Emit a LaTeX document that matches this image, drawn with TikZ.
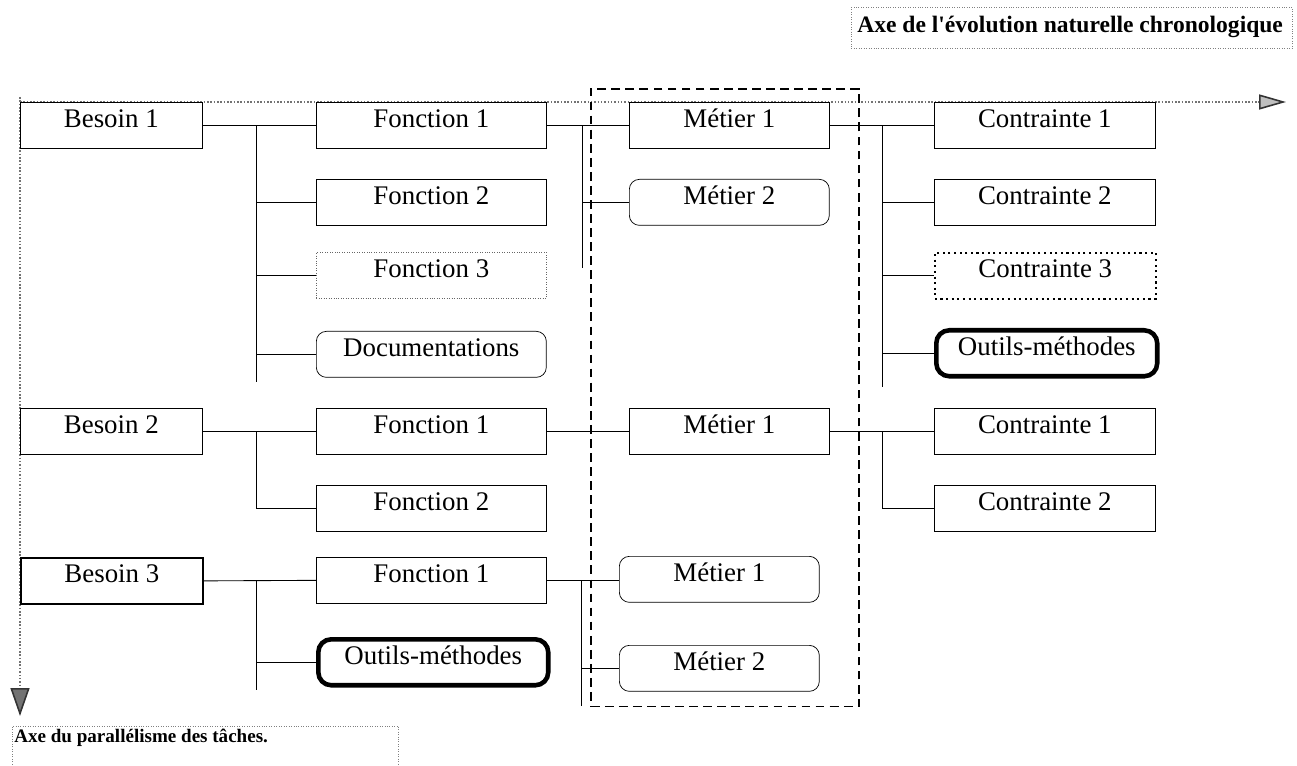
\documentclass[tikz,border=0pt]{standalone}
\usepackage{fontspec}
\setmainfont{Liberation Serif}
\usetikzlibrary{arrows.meta,positioning}

\begin{document}
\begin{tikzpicture}[
  x=0.02cm, y=-0.02cm,
  box/.style={draw,anchor=north west,inner sep=0pt,minimum height=0.92cm,text height=10.5pt,text depth=8.3pt,font=\fontsize{15.3}{17}\selectfont},
  besoin/.style={box,minimum width=3.64cm},
  fonction/.style={box,minimum width=4.6cm},
  metier/.style={box,minimum width=4cm},
  contrainte/.style={box,minimum width=4.42cm},
  rnd/.style={rounded corners=0.2cm},
  outil/.style={rounded corners=0.26cm,line width=2.6pt},
  fine/.style={densely dotted,draw=black!60},
  dotbox/.style={dash pattern=on 1.2pt off 2pt,line width=0.9pt},
  link/.style={line width=0.5pt},
  axis/.style={draw=black!55,densely dotted,line width=0.9pt},
  group/.style={draw,dash pattern=on 5pt off 3pt,line width=0.9pt,anchor=north west,inner sep=0pt},
  frame/.style={anchor=north west,inner sep=0pt},
  axelabel/.style={anchor=base west,inner sep=0pt}
]
\path[use as bounding box] (0,0) rectangle (1297,766);

\coordinate (o) at (20,102);
\coordinate (xe) at (1286,102);
\coordinate (ye) at (20,716);
\draw[axis,-{Triangle[length=0.54cm,width=0.3cm,color=black!80,fill=black!25]}] (o) -- (xe);
\draw[axis,-{Triangle[length=0.56cm,width=0.38cm,color=black!80,fill=black!55]}] (20,97) -- (ye);

\node[frame,draw=black!50,densely dotted,minimum width=8.82cm,minimum height=0.82cm] (lxf) at (851,7) {};
\node[axelabel,font=\bfseries\fontsize{13.4}{15}\selectfont] (lx) at (857,33) {Axe de l\textquotesingle évolution naturelle chronologique};
\node[frame,minimum width=7.72cm,minimum height=0.8cm] (lyf) at (12,726) {};
\draw[black!50,densely dotted] (lyf.south west) -- (lyf.north west) -- (lyf.north east) -- (lyf.south east);
\node[axelabel,font=\bfseries\fontsize{10.85}{13}\selectfont] (ly) at (14,742) {Axe du parallélisme des tâches.};

\node[group,minimum width=5.36cm,minimum height=12.36cm] (grp) at (590,88) {};

\node[besoin] (b1) at (20,102) {Besoin 1};
\node[fonction] (f11) at (316,102) {Fonction 1};
\node[fonction] (f12) at (316,179) {Fonction 2};
\node[fonction,fine] (f13) at (316,252) {Fonction 3};
\node[fonction,rnd] (doc) at (316,331) {Documentations};
\node[metier] (m11) at (629,102) {Métier 1};
\node[metier,rnd] (m12) at (629,179) {Métier 2};
\node[contrainte] (c11) at (934,102) {Contrainte 1};
\node[contrainte] (c12) at (934,179) {Contrainte 2};
\node[contrainte,dotbox] (c13) at (934,252) {Contrainte 3};
\node[contrainte,outil] (om1) at (934,328) {Outils-méthodes};

\node[besoin] (b2) at (20,408) {Besoin 2};
\node[fonction] (f21) at (316,408) {Fonction 1};
\node[fonction] (f22) at (316,485) {Fonction 2};
\node[metier] (m21) at (629,408) {Métier 1};
\node[contrainte] (c21) at (934,408) {Contrainte 1};
\node[contrainte] (c22) at (934,485) {Contrainte 2};

\node[besoin,line width=1pt] (b3) at (20,557) {Besoin 3};
\node[fonction] (f31) at (316,557) {Fonction 1};
\node[fonction,outil] (om3) at (316,637) {Outils-méthodes};
\node[metier,rnd] (m31) at (619,556) {Métier 1};
\node[metier,rnd] (m32) at (619,645) {Métier 2};

\coordinate (t1) at (256,382);
\coordinate (t2) at (582,268);
\coordinate (t3) at (882,387);
\coordinate (t5) at (256,690);
\coordinate (t6) at (581,706);

\draw[link] (b1.east) -- (f11.west);
\draw[link] (f11.west -| t1) -- (t1);
\foreach \n in {f12,f13,doc}
  \draw[link] (\n.west -| t1) -- (\n.west);
\draw[link] (f11.east) -- (m11.west);
\draw[link] (f11.east -| t2) -- (t2);
\draw[link] (m12.west -| t2) -- (m12.west);
\draw[link] (m11.east) -- (c11.west);
\draw[link] (c11.west -| t3) -- (t3);
\foreach \n in {c12,c13,om1}
  \draw[link] (\n.west -| t3) -- (\n.west);

\draw[link] (b2.east) -- (f21.west);
\draw[link] (f21.west -| t1) |- (f22.west);
\draw[link] (f21.east) -- (m21.west);
\draw[link] (m21.east) -- (c21.west);
\draw[link] (c21.west -| t3) |- (c22.west);

\draw[link] (b3.east) -- (f31.west);
\draw[link] (f31.west -| t5) -- (t5);
\draw[link] (om3.west -| t5) -- (om3.west);
\draw[link] (f31.east) -- (f31.east -| m31.west);
\draw[link] (f31.east -| t6) -- (t6);
\draw[link] (m32.west -| t6) -- (m32.west);
\end{tikzpicture}
\end{document}
